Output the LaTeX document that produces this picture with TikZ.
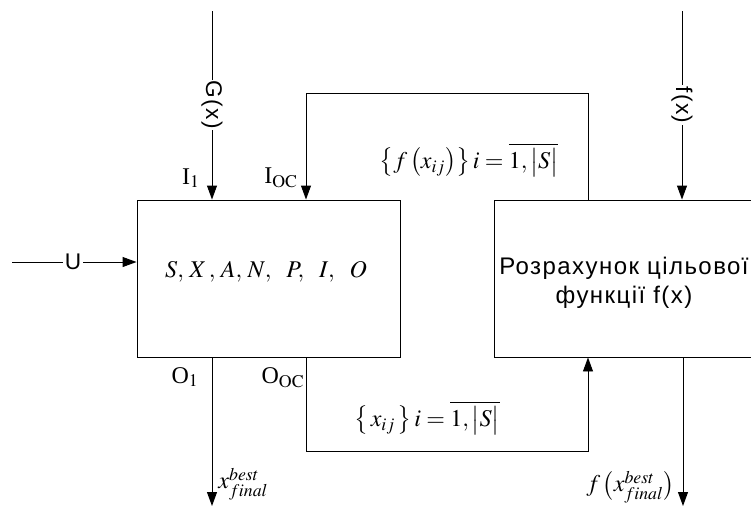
\documentclass[tikz,border=0pt]{standalone}
\usepackage{mathptmx}
\usepackage{fontspec}
\setmainfont{Liberation Serif}
\setsansfont{Liberation Sans}
\newfontfamily\visiofont{Liberation Sans}[LetterSpace=6.0]
\usetikzlibrary{positioning, arrows.meta}

\begin{document}
\begin{tikzpicture}[x=0.75pt, y=-0.75pt, line width=0.7pt, >={Triangle[length=10.5pt, width=7.5pt]},
    blok/.style={draw, minimum width=197.25pt, minimum height=117.75pt, inner sep=0pt},
    sig/.style={font=\visiofont\fontsize{17}{20}\selectfont, fill=white, inner sep=1pt},
    lbl/.style={font=\fontsize{18}{21}\selectfont, inner sep=0pt}]
    \useasboundingbox (0, 0) rectangle (751, 511);

    % blocks
    \node[blok] (model) at (268.5, 278.5) {};
    \node[font=\fontsize{18}{21}\selectfont] (modeltext) at (266, 272)
        {$S,\, X\,,\, A,\, N,\ \ P,\ \ I,\ \ O$};
    \node[blok, minimum width=199.5pt] (calc) at (627, 278.5) {};
    \node[font=\visiofont\fontsize{18}{22}\selectfont, align=center] (calctext) at (624, 283)
        {Розрахунок цільової\\функції f(x)};

    % inputs
    \coordinate (gtop) at (212, 11);
    \draw[->] (gtop) -- (gtop |- model.north);
    \node[sig, rotate=-90] (gx) at (212, 105) {G(x)};
    \node[lbl] (i1) at (191, 178) {I$_1$};

    \coordinate (ftop) at (682, 11);
    \draw[->] (ftop) -- (ftop |- calc.north);
    \node[sig, rotate=-90] (fx) at (682, 105) {f(x)};

    \coordinate (uin) at (12, 262);
    \draw[->] (uin) -- (uin -| model.west);
    \node[sig] (u) at (73, 262) {U};

    % feedback over the top
    \coordinate (fbR) at (588, 93);
    \coordinate (fbL) at (306, 93);
    \draw[->] (fbR |- calc.north) -- (fbR) -- (fbL) -- (fbL |- model.north);
    \node[lbl] (ioc) at (281, 178) {I$_{\mathrm{OC}}$};
    \node[lbl] (fset) at (469, 160)
        {$\bigl\{ f \,\bigl( x_{ij} \bigr) \bigr\}\, i = \overline{1, \bigl| S \bigr|}$};

    % feedback under the bottom
    \coordinate (obL) at (306, 451);
    \coordinate (obR) at (588, 451);
    \draw[->] (obL |- model.south) -- (obL) -- (obR) -- (obR |- calc.south);
    \node[lbl] (ooc) at (283, 378) {O$_{\mathrm{OC}}$};
    \node[lbl] (xset) at (427, 418)
        {$\bigl\{\, x_{ij} \,\bigr\}\, i = \overline{1, \bigl| S \bigr|}$};

    % outputs
    \coordinate (outL) at (212, 506);
    \draw[->] (outL |- model.south) -- (outL);
    \node[lbl] (o1) at (185, 377) {O$_1$};
    \node[lbl, anchor=west] (xbest) at (218, 484) {$x_{final}^{best}$};

    \coordinate (outR) at (683, 506);
    \draw[->] (outR |- calc.south) -- (outR);
    \node[lbl, anchor=east] (fbest) at (675, 487) {$f\,\bigl( x_{final}^{best} \bigr)$};
\end{tikzpicture}
\end{document}
